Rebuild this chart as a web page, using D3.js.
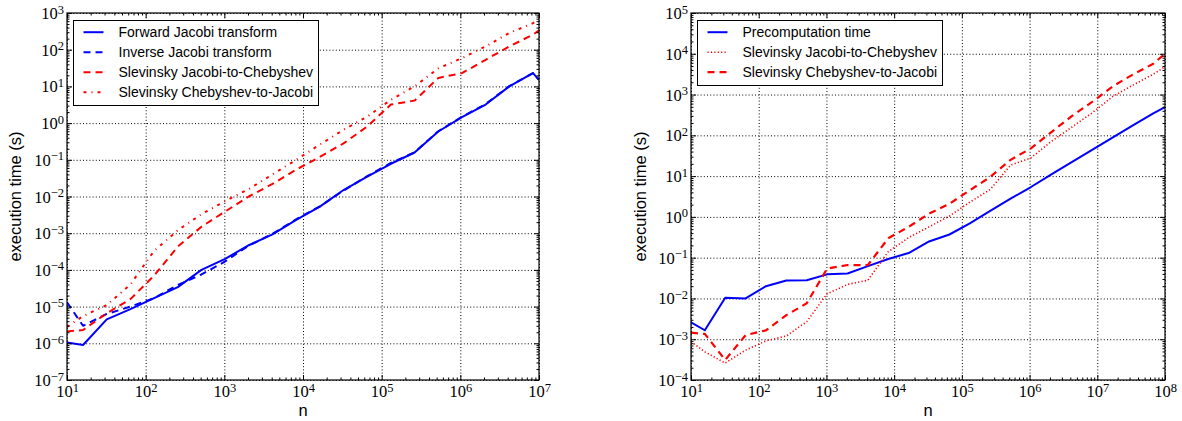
<!DOCTYPE html>
<html><head><meta charset="utf-8">
<script src="https://cdn.jsdelivr.net/npm/d3@7"></script>
<style>body{margin:0;background:#fff}</style>
</head><body>
<svg id="c" width="1182" height="421"></svg>
<script>
// ---------- data ----------
const leftN = [10,16,32,64,128,256,512,1024,2048,4096,8192,16384,32768,65536,131072,262144,524288,1048576,2097152,4194304,8388608,10000000];
const forwardJacobi = [1.05e-6,9.0e-7,4.5e-6,8.5e-6,1.7e-5,3.4e-5,1.0e-4,2.0e-4,4.7e-4,9.3e-4,2.3e-3,5.3e-3,1.5e-2,3.5e-2,7.8e-2,0.158,0.59,1.45,3.2,10,23,15];
const inverseJacobi = [1.3e-5,3.0e-6,6.3e-6,1.0e-5,1.7e-5,3.9e-5,7.5e-5,1.7e-4,4.6e-4,9.6e-4,2.4e-3,5.4e-3,1.45e-2,3.6e-2,8.2e-2,0.16,0.6,1.48,3.3,10.2,23,15];
const leftJ2C = [2.1e-6,2.3e-6,6.6e-6,1.6e-5,7.0e-5,4.3e-4,1.5e-3,3.9e-3,1.0e-2,2.2e-2,5.4e-2,0.12,0.28,0.81,3.2,4.1,17,23,53,123,257,337];
const leftC2J = [2.8e-6,5.5e-6,1.1e-5,4.0e-5,3.3e-4,1.2e-3,3.3e-3,7.5e-3,1.6e-2,4.0e-2,0.1,0.26,0.66,1.5,4.3,10,31,59,123,285,530,660];

const rightN = [10,16,32,64,128,256,512,1024,2048,4096,8192,16384,32768,65536,131072,262144,524288,1048576,2097152,4194304,8388608,16777216,33554432,67108864,100000000];
const precomputation = [2.6e-3,1.66e-3,1.04e-2,1.0e-2,2.0e-2,2.75e-2,2.8e-2,3.9e-2,4.1e-2,6.2e-2,9.3e-2,0.13,0.25,0.37,0.69,1.4,2.8,5.4,11,22,44,88,175,345,490];
const rightJ2C = [8.7e-4,4.9e-4,2.6e-4,5.4e-4,9.1e-4,1.2e-3,2.7e-3,1.3e-2,2.2e-2,2.8e-2,0.14,0.31,0.57,1.05,2.3,4.7,18.6,28,71,158,355,890,1700,3160,4800];
const rightC2J = [1.45e-3,1.35e-3,3.1e-4,1.26e-3,1.65e-3,3.9e-3,7.6e-3,5.4e-2,6.6e-2,6.6e-2,0.3,0.57,1.2,2.1,4.5,9.5,25,48,120,295,660,1580,3100,5700,10000];

const leftNames = ["Forward Jacobi transform","Inverse Jacobi transform","Slevinsky Jacobi-to-Chebyshev","Slevinsky Chebyshev-to-Jacobi"];
const rightNames = ["Precomputation time","Slevinsky Jacobi-to-Chebyshev","Slevinsky Chebyshev-to-Jacobi"];
const xLabel = "n";
const yLabel = "execution time (s)";

// ---------- drawing ----------
const svg = d3.select("#c");
const SERIF = "'Liberation Serif', 'DejaVu Serif', serif";
const SANS = "'Liberation Sans', Arial, sans-serif";

function decades(a, b){ const r=[]; for(let e=a;e<=b;e++) r.push(Math.pow(10,e)); return r; }
function minors(a, b){ const r=[]; for(let e=a;e<b;e++) for(let k=2;k<=9;k++) r.push(k*Math.pow(10,e)); return r; }

function supLabels(sel){
  sel.each(function(d){
    const t = d3.select(this);
    const e = Math.round(Math.log10(d));
    t.text(null);
    t.append("tspan").attr("font-size",16.5).text("10");
    t.append("tspan").attr("dy", -5.5).attr("font-size", 12.5).text(e < 0 ? "\u2212" + (-e) : String(e));
  });
}

function panel(opt){
  const {x0,x1,y0,y1,xd,yd,series,names,legend,ylabX} = opt;
  const x = d3.scaleLog().domain([Math.pow(10,xd[0]), Math.pow(10,xd[1])]).range([x0,x1]);
  const y = d3.scaleLog().domain([Math.pow(10,yd[0]), Math.pow(10,yd[1])]).range([y1,y0]);
  const g = svg.append("g");
  const W = x1-x0, H = y1-y0;
  const xMaj = decades(xd[0], xd[1]), yMaj = decades(yd[0], yd[1]);
  const xMin = minors(xd[0], xd[1]), yMin = minors(yd[0], yd[1]);

  // grid
  const gx = g.append("g").attr("transform",`translate(0,${y1})`)
    .call(d3.axisBottom(x).tickValues(xMaj).tickSizeInner(-H).tickSizeOuter(0).tickFormat(""));
  const gy = g.append("g").attr("transform",`translate(${x0},0)`)
    .call(d3.axisLeft(y).tickValues(yMaj).tickSizeInner(-W).tickSizeOuter(0).tickFormat(""));
  [gx,gy].forEach(a=>{ a.select(".domain").remove(); a.selectAll("line").attr("stroke","#000").attr("stroke-width",1).attr("stroke-dasharray","1,2.2"); });

  // lines
  const clipId = "clip"+x0;
  svg.append("clipPath").attr("id",clipId).append("rect").attr("x",x0).attr("y",y0).attr("width",W).attr("height",H);
  const lg = g.append("g").attr("clip-path",`url(#${clipId})`);
  series.forEach(s=>{
    const line = d3.line().x((d,i)=>x(s.n[i])).y(d=>y(d));
    lg.append("path").datum(s.v).attr("d",line).attr("fill","none")
      .attr("stroke",s.color).attr("stroke-width",s.w).attr("stroke-dasharray",s.dash||null)
      .attr("stroke-linejoin","round");
  });

  // ticks (inward on all sides)
  function tickAxis(axisFn, scale, vals, size, tr){
    const a = g.append("g").attr("transform",tr).call(axisFn(scale).tickValues(vals).tickSizeInner(-size).tickSizeOuter(0).tickFormat(""));
    a.select(".domain").remove();
    a.selectAll("line").attr("stroke","#000").attr("stroke-width",1);
    return a;
  }
  tickAxis(d3.axisBottom, x, xMaj, 5, `translate(0,${y1})`);
  tickAxis(d3.axisBottom, x, xMin, 2.5, `translate(0,${y1})`);
  tickAxis(d3.axisTop, x, xMaj, 5, `translate(0,${y0})`);
  tickAxis(d3.axisTop, x, xMin, 2.5, `translate(0,${y0})`);
  tickAxis(d3.axisLeft, y, yMaj, 5, `translate(${x0},0)`);
  tickAxis(d3.axisLeft, y, yMin, 2.5, `translate(${x0},0)`);
  tickAxis(d3.axisRight, y, yMaj, 5, `translate(${x1},0)`);
  tickAxis(d3.axisRight, y, yMin, 2.5, `translate(${x1},0)`);

  // tick labels
  const xl = g.append("g").attr("transform",`translate(0,${y1})`)
    .call(d3.axisBottom(x).tickValues(xMaj).tickSize(0).tickFormat(d=>d));
  xl.select(".domain").remove();
  xl.selectAll("text").attr("y",17).attr("dy",null).attr("font-family",SERIF).attr("font-size",16.5).attr("fill","#000").call(supLabels);
  const yl = g.append("g").attr("transform",`translate(${x0},0)`)
    .call(d3.axisLeft(y).tickValues(yMaj).tickSize(0).tickFormat(d=>d));
  yl.select(".domain").remove();
  yl.selectAll("text").attr("x",-3).attr("dy",5.5).attr("font-family",SERIF).attr("font-size",16.5).attr("fill","#000").call(supLabels);

  // frame
  g.append("rect").attr("x",x0).attr("y",y0).attr("width",W).attr("height",H).attr("fill","none").attr("stroke","#000").attr("stroke-width",1.2);

  // axis labels
  g.append("text").attr("x",(x0+x1)/2).attr("y",416).attr("text-anchor","middle")
    .attr("font-family",SANS).attr("font-size",16.5).text(xLabel);
  g.append("text").attr("transform",`translate(${ylabX},${(y0+y1)/2}) rotate(-90)`).attr("text-anchor","middle")
    .attr("font-family",SANS).attr("font-size",16.5).text(yLabel);

  // legend
  const L = legend;
  const lgd = g.append("g");
  lgd.append("rect").attr("x",L.x).attr("y",L.y).attr("width",L.w).attr("height",L.h)
    .attr("fill","#fff").attr("stroke","#000").attr("stroke-width",1);
  series.forEach((s,i)=>{
    const cy = L.y + 11.7 + i*20;
    lgd.append("line").attr("x1",L.x+10).attr("x2",L.x+30).attr("y1",cy).attr("y2",cy)
      .attr("stroke",s.color).attr("stroke-width",s.w).attr("stroke-dasharray",s.dash||null);
    lgd.append("text").attr("x",L.x+45).attr("y",cy+5).attr("font-family",SANS).attr("font-size",14).text(names[i]);
  });
}

panel({
  x0:67, x1:539, y0:13, y1:380, xd:[1,7], yd:[-7,3], ylabX:21,
  names:leftNames,
  legend:{x:73.5, y:20.5, w:245, h:85},
  series:[
    {n:leftN, v:forwardJacobi, color:"#0000ff", w:2, dash:null},
    {n:leftN, v:inverseJacobi, color:"#0000ff", w:2, dash:"7,5"},
    {n:leftN, v:leftJ2C, color:"#ff0000", w:2, dash:"7,5"},
    {n:leftN, v:leftC2J, color:"#ff0000", w:2, dash:"3,5,1,5"}
  ]
});
panel({
  x0:691, x1:1165, y0:13, y1:380, xd:[1,8], yd:[-4,5], ylabX:646,
  names:rightNames,
  legend:{x:697.5, y:20.5, w:245, h:65},
  series:[
    {n:rightN, v:precomputation, color:"#0000ff", w:2, dash:null},
    {n:rightN, v:rightJ2C, color:"#ff0000", w:1.6, dash:"1.2,2.2"},
    {n:rightN, v:rightC2J, color:"#ff0000", w:2.2, dash:"7,5"}
  ]
});
</script>
</body></html>
